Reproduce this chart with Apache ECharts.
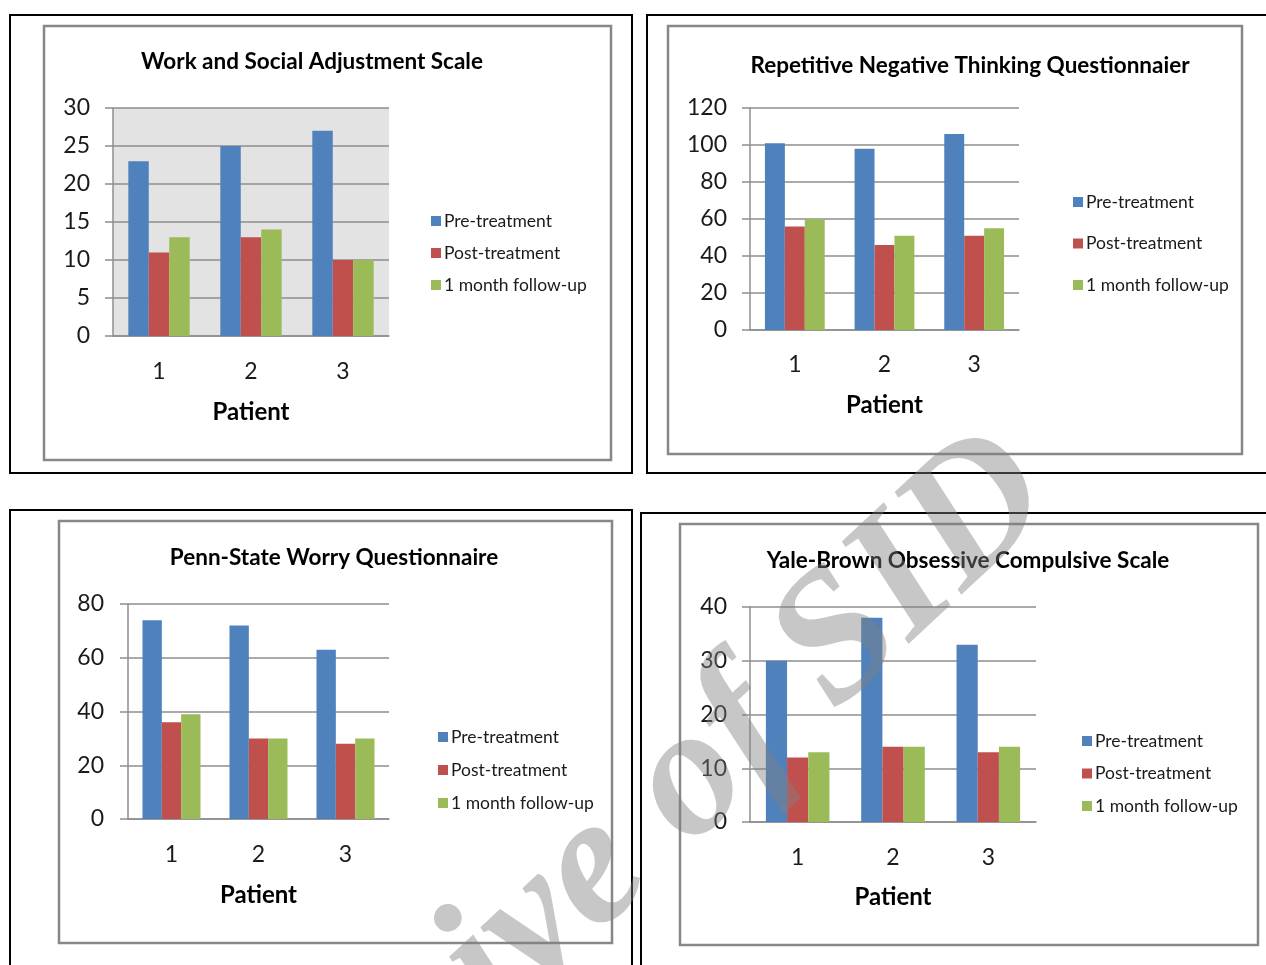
<!DOCTYPE html>
<html>
<head>
<meta charset="utf-8">
<script src="https://cdn.jsdelivr.net/npm/echarts@6/dist/echarts.min.js"></script>
<style>
html,body{margin:0;padding:0;background:#fff;}
#wrap{position:relative;width:1266px;height:965px;overflow:hidden;}
#chart{position:absolute;left:0;top:0;width:1266px;height:965px;}
#wm{position:absolute;left:0;top:0;width:1266px;height:965px;pointer-events:none;}
</style>
</head>
<body>
<div id="wrap">
<div id="chart"></div>
<svg id="wm" width="1266" height="965"></svg>
</div>
<script>
// ---- data ----
const categories = ['1', '2', '3'];
const seriesNames = ['Pre-treatment', 'Post-treatment', '1 month follow-up'];
const chartTitles = [
  'Work and Social Adjustment Scale',
  'Repetitive Negative Thinking Questionnaier',
  'Penn-State Worry Questionnaire',
  'Yale-Brown Obsessive Compulsive Scale'
];
const xAxisTitle = 'Patient';
const wsasPre = [23, 25, 27];
const wsasPost = [11, 13, 10];
const wsasFollow = [13, 14, 10];
const rntqPre = [101, 98, 106];
const rntqPost = [56, 46, 51];
const rntqFollow = [60, 51, 55];
const pswqPre = [74, 72, 63];
const pswqPost = [36, 30, 28];
const pswqFollow = [39, 30, 30];
const ybocsPre = [30, 38, 33];
const ybocsPost = [12, 14, 13];
const ybocsFollow = [13, 14, 14];
const yMaxes = [30, 120, 80, 40];
const yIntervals = [5, 20, 20, 10];
const watermarkText = 'Archive of SID';

const panelData = [
  [wsasPre, wsasPost, wsasFollow],
  [rntqPre, rntqPost, rntqFollow],
  [pswqPre, pswqPost, pswqFollow],
  [ybocsPre, ybocsPost, ybocsFollow]
];

// ---- layout ----
const colors = ['#4F81BD', '#C0504D', '#9BBB59'];
const FONT = 'Lato';
const layout = [
  { grid: [113, 108, 276, 228], titleX: 307, titleY: 57, legX: 431, legY: 221, legStep: 32.5, xLabY: 371, nameY: 412, labRight: 90, bg: '#e3e3e3' },
  { grid: [750, 108, 269, 222], titleX: 965, titleY: 61, legX: 1073, legY: 202, legStep: 42, xLabY: 364, nameY: 405, labRight: 727, bg: null },
  { grid: [128, 604, 261, 215], titleX: 329, titleY: 553, legX: 438, legY: 737, legStep: 33.5, xLabY: 854, nameY: 895, labRight: 104, bg: null },
  { grid: [750, 607, 286, 215], titleX: 963, titleY: 556, legX: 1082, legY: 741, legStep: 33, xLabY: 857, nameY: 897, labRight: 727, bg: null }
];
const outerBoxes = [[10, 15, 622, 458], [647, 15, 640, 458], [10, 510, 622, 480], [641, 513, 640, 480]];
const innerBoxes = [[44, 26, 567, 434], [668, 26, 574, 428], [59, 521, 553, 422], [680, 524, 578, 421]];

const axisColor = '#8e8e8e';
const option = {
  animation: false,
  title: [], legend: [], grid: [], xAxis: [], yAxis: [], series: [],
  graphic: []
};

outerBoxes.forEach(b => option.graphic.push({
  type: 'rect', shape: { x: b[0], y: b[1], width: b[2], height: b[3] },
  style: { fill: 'none', stroke: '#000', lineWidth: 2 }, z: -10
}));
innerBoxes.forEach(b => option.graphic.push({
  type: 'rect', shape: { x: b[0], y: b[1], width: b[2], height: b[3] },
  style: { fill: 'none', stroke: '#878787', lineWidth: 2.5 }, z: -10
}));

layout.forEach((L, i) => {
  const [gl, gt, gw, gh] = L.grid;
  option.title.push({
    text: chartTitles[i], left: L.titleX, top: L.titleY, textAlign: 'center', textVerticalAlign: 'middle',
    textStyle: { fontFamily: FONT, fontWeight: 'bold', fontSize: 22.5, color: '#000' }
  });
  option.grid.push({
    left: gl, top: gt, width: gw, height: gh, containLabel: false,
    show: !!L.bg, backgroundColor: L.bg || 'transparent', borderWidth: 0
  });
  option.xAxis.push({
    type: 'category', gridIndex: i, data: categories,
    axisLine: { show: true, lineStyle: { color: axisColor, width: 1.5 } },
    axisTick: { show: false },
    axisLabel: { fontFamily: FONT, fontSize: 23, color: '#1a1a1a', margin: L.xLabY - (gt + gh) - 11 },
    name: xAxisTitle, nameLocation: 'middle', nameGap: L.nameY - (gt + gh) - 12,
    nameTextStyle: { fontFamily: FONT, fontWeight: 'bold', fontSize: 24, color: '#000' }
  });
  option.yAxis.push({
    type: 'value', gridIndex: i, min: 0, max: yMaxes[i], interval: yIntervals[i],
    axisLine: { show: true, lineStyle: { color: axisColor, width: 1.5 } },
    axisTick: { show: true, length: 8, lineStyle: { color: axisColor, width: 1.5 } },
    splitLine: { show: true, lineStyle: { color: axisColor, width: 1.5 } },
    axisLabel: { fontFamily: FONT, fontSize: 23, color: '#1a1a1a', margin: gl - L.labRight, padding: [3, 0, 0, 0] }
  });
  option.legend.push({
    orient: 'vertical', left: L.legX, top: L.legY - 9, padding: 0,
    itemWidth: 10, itemHeight: 10, itemGap: L.legStep - 18.5, icon: 'rect',
    textStyle: { fontFamily: FONT, fontSize: 17.5, color: '#1a1a1a', lineHeight: 16, padding: [0, 0, 0, -2] },
    data: seriesNames
  });
  panelData[i].forEach((vals, k) => {
    option.series.push({
      type: 'bar', name: seriesNames[k], xAxisIndex: i, yAxisIndex: i,
      data: vals, barGap: 0, barCategoryGap: '33.3%',
      itemStyle: { color: colors[k] }
    });
  });
});

const chart = echarts.init(document.getElementById('chart'), null, { renderer: 'canvas' });
chart.setOption(option);

// watermark overlay (real text)
const svgNS = 'http://www.w3.org/2000/svg';
const wm = document.getElementById('wm');
const t = document.createElementNS(svgNS, 'text');
t.textContent = watermarkText;
t.setAttribute('x', 0);
t.setAttribute('y', 0);
t.setAttribute('font-family', 'Liberation Serif, DejaVu Serif, serif');
t.setAttribute('font-style', 'italic');
t.setAttribute('font-weight', 'bold');
t.setAttribute('font-size', 184);
t.setAttribute('fill', 'rgba(127,127,127,0.44)');
t.setAttribute('transform', 'translate(222 1284) rotate(-43)');
wm.appendChild(t);
</script>
</body>
</html>
